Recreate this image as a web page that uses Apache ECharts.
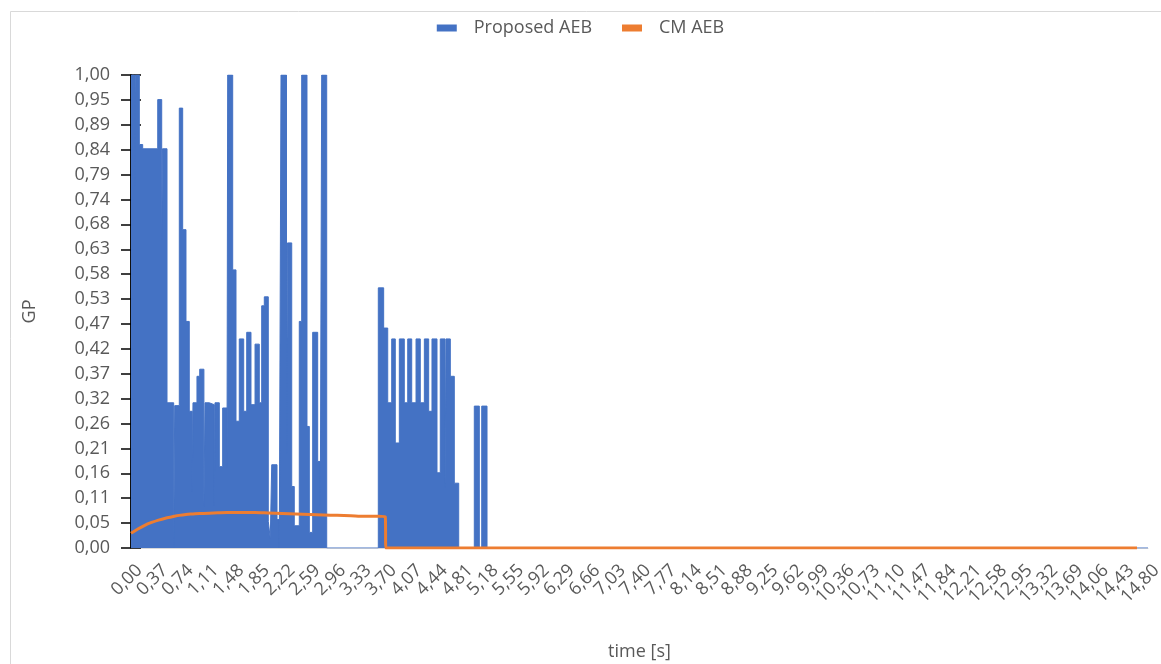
<!DOCTYPE html>
<html>
<head>
<meta charset="utf-8">
<script src="https://cdn.jsdelivr.net/npm/echarts@6/dist/echarts.min.js"></script>
<style>
html,body{margin:0;padding:0;background:#fff;}
#chart{width:1161px;height:664px;}
</style>
</head>
<body>
<div id="chart"></div>
<script>
// Proposed AEB (GP) — step start times [s] and values
const blueTimes = [0.00,0.051,0.06,0.121,0.170,0.389,0.447,0.458,0.524,0.621,0.636,0.703,0.752,0.800,0.848,0.891,0.902,0.960,1.000,1.061,1.077,1.139,1.212,1.222,1.285,1.334,1.397,1.407,1.480,1.528,1.576,1.640,1.684,1.746,1.805,1.867,1.902,1.940,1.998,2.027,2.048,2.125,2.158,2.183,2.263,2.277,2.339,2.376,2.449,2.484,2.561,2.595,2.644,2.717,2.755,2.775,2.848,3.599,3.677,3.736,3.794,3.846,3.905,3.977,4.027,4.085,4.148,4.210,4.269,4.332,4.380,4.453,4.501,4.570,4.584,4.647,4.705,4.769,4.996,5.069,5.104,5.181,14.80];
const blueValues = [1.00,0.765,1.00,0.853,0.844,0.948,0.652,0.844,0.307,0.00,0.301,0.930,0.673,0.479,0.289,0.12,0.307,0.363,0.378,0.088,0.307,0.303,0.09,0.307,0.172,0.296,0.17,1.00,0.588,0.268,0.442,0.289,0.456,0.303,0.431,0.307,0.512,0.531,0.056,0.02,0.176,0.06,0.00,1.00,0.20,0.645,0.130,0.047,0.479,1.00,0.257,0.033,0.456,0.183,0.09,1.00,0.00,0.550,0.465,0.307,0.442,0.222,0.442,0.307,0.442,0.307,0.442,0.307,0.442,0.289,0.442,0.159,0.442,0.128,0.442,0.363,0.137,0.00,0.30,0.00,0.30,0.00,0.00];

// CM AEB (GP)
const cmTimes  = [0.00,0.10,0.20,0.30,0.40,0.50,0.60,0.70,0.80,0.90,1.00,1.20,1.40,1.60,1.80,2.00,2.20,2.40,2.60,2.80,3.00,3.20,3.40,3.60,3.70,3.71,14.64];
const cmValues = [0.031,0.040,0.048,0.054,0.059,0.063,0.066,0.069,0.071,0.072,0.073,0.074,0.075,0.075,0.075,0.074,0.073,0.072,0.071,0.070,0.069,0.068,0.067,0.067,0.066,0.000,0.000];

const xTickLabels = ['0,00','0,37','0,74','1,11','1,48','1,85','2,22','2,59','2,96','3,33','3,70','4,07','4,44','4,81','5,18','5,55','5,92','6,29','6,66','7,03','7,40','7,77','8,14','8,51','8,88','9,25','9,62','9,99','10,36','10,73','11,10','11,47','11,84','12,21','12,58','12,95','13,32','13,69','14,06','14,43','14,80'];
const yTickLabels = ['0,00','0,05','0,11','0,16','0,21','0,26','0,32','0,37','0,42','0,47','0,53','0,58','0,63','0,68','0,74','0,79','0,84','0,89','0,95','1,00'];

const X_STEP = 0.37;
const Y_STEP = 1 / 19;
const FONT = '"Open Sans", "Noto Sans", sans-serif';
const GREY = '#595959';

const chart = echarts.init(document.getElementById('chart'), null, {renderer: 'canvas'});
const yBase = {
  type: 'value', min: 0, max: 1, interval: Y_STEP,
  splitLine: {show: false},
  axisLine: {show: true, lineStyle: {color: '#000', width: 1.5}}
};
chart.setOption({
  animation: false,
  backgroundColor: '#fff',
  graphic: [{
    type: 'rect', left: 8, top: 9, silent: true, z: -10,
    shape: {width: 1170, height: 700},
    style: {fill: 'none', stroke: '#d9d9d9', lineWidth: 1}
  }],
  legend: {
    top: 14, left: 'center',
    itemWidth: 20, itemHeight: 7, itemGap: 30,
    textStyle: {fontFamily: FONT, fontSize: 18, color: GREY, padding: [0, 0, 0, 12]},
    data: [{name: 'Proposed AEB', icon: 'rect'}, {name: 'CM AEB', icon: 'rect'}]
  },
  grid: {left: 131, right: 13, top: 75, bottom: 116, containLabel: false, outerBoundsMode: 'none'},
  xAxis: {
    type: 'value', min: 0, max: 14.8, interval: X_STEP,
    name: 'time [s]', nameLocation: 'middle', nameGap: 95,
    nameTextStyle: {fontFamily: FONT, fontSize: 18, color: GREY},
    axisLine: {show: true, onZero: false, lineStyle: {color: '#d9d9d9', width: 1}},
    axisTick: {show: false},
    splitLine: {show: false},
    axisLabel: {
      rotate: 45, margin: 11, fontFamily: FONT, fontSize: 18, color: GREY,
      verticalAlign: 'top', padding: [3, 0, 0, 0],
      showMinLabel: true, showMaxLabel: true,
      formatter: v => { const i = Math.round(v / X_STEP); return xTickLabels[i] !== undefined ? xTickLabels[i] : ''; }
    }
  },
  yAxis: [
    Object.assign({}, yBase, {
      name: 'GP', nameLocation: 'middle', nameGap: 92,
      nameTextStyle: {fontFamily: FONT, fontSize: 18, color: GREY},
      axisTick: {show: true, length: 10, lineStyle: {color: '#000', width: 1.5}},
      axisLabel: {
        margin: 21, fontFamily: FONT, fontSize: 18, color: GREY,
        formatter: v => { const i = Math.round(v / Y_STEP); return yTickLabels[i] !== undefined ? yTickLabels[i] : ''; }
      }
    }),
    Object.assign({}, yBase, {
      position: 'left',
      axisTick: {show: true, inside: true, length: 10, lineStyle: {color: '#000', width: 1.5}},
      axisLabel: {show: false}
    })
  ],
  series: [
    {
      name: 'Proposed AEB', type: 'line', step: 'end', symbol: 'none',
      color: '#4472C4',
      lineStyle: {color: '#4472C4', width: 1},
      areaStyle: {color: '#4472C4', opacity: 1},
      data: blueTimes.map((t, i) => [t, blueValues[i]]),
      z: 2
    },
    {
      name: 'CM AEB', type: 'line', symbol: 'none', smooth: 0.3,
      color: '#ED7D31',
      lineStyle: {color: '#ED7D31', width: 3},
      data: cmTimes.map((t, i) => [t, cmValues[i]]),
      z: 3
    }
  ]
});
</script>
</body>
</html>
